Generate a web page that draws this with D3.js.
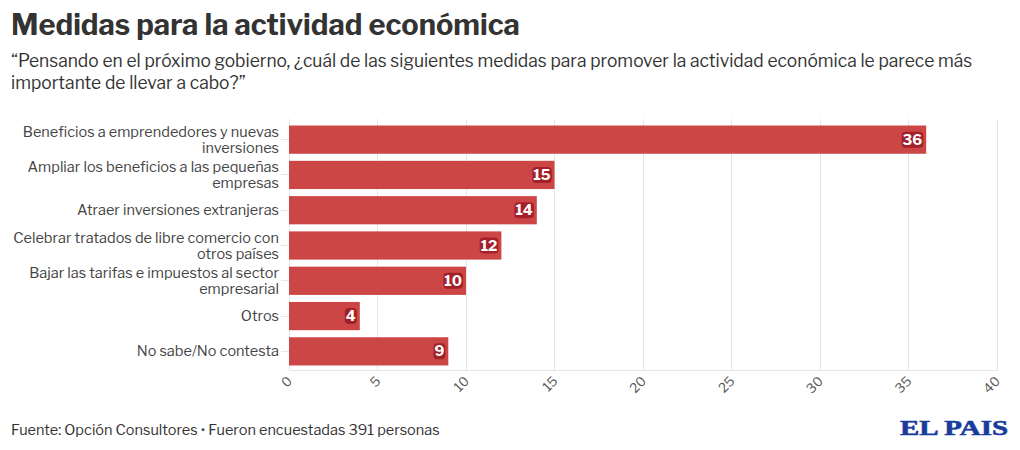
<!DOCTYPE html>
<html>
<head>
<meta charset="utf-8">
<script src="https://cdn.jsdelivr.net/npm/d3@7"></script>
<style>
  body { margin: 0; background: #fff; }
  svg { display: block; }
</style>
</head>
<body>
<svg id="chart" width="1020" height="450"></svg>
<script>
// data
const categories = [
  ["Beneficios a emprendedores y nuevas", "inversiones"],
  ["Ampliar los beneficios a las pequeñas", "empresas"],
  ["Atraer inversiones extranjeras"],
  ["Celebrar tratados de libre comercio con", "otros países"],
  ["Bajar las tarifas e impuestos al sector", "empresarial"],
  ["Otros"],
  ["No sabe/No contesta"]
];
const values = [36, 15, 14, 12, 10, 4, 9];
const xTicks = [0, 5, 10, 15, 20, 25, 30, 35, 40];

const font = "'Libre Franklin', 'Noto Sans', sans-serif";
const svg = d3.select("#chart");

svg.append("text")
  .attr("x", 11).attr("y", 35)
  .attr("font-family", font).attr("font-size", 29).attr("font-weight", 700)
  .attr("fill", "#333")
  .text("Medidas para la actividad económica");

const sub = svg.append("text")
  .attr("font-family", font).attr("font-size", 17.4).attr("fill", "#333");
sub.append("tspan").attr("x", 11).attr("y", 67)
  .text("“Pensando en el próximo gobierno, ¿cuál de las siguientes medidas para promover la actividad económica le parece más");
sub.append("tspan").attr("x", 11).attr("y", 89)
  .text("importante de llevar a cabo?”");

const plot = { left: 289, right: 997, top: 122, bottom: 369 };

const x = d3.scaleLinear().domain([0, 40]).range([plot.left, plot.right]);
const y = d3.scaleBand().domain(d3.range(values.length)).range([plot.top, plot.bottom])
  .paddingInner(0.2).paddingOuter(0.1);

// grid
svg.append("g")
  .selectAll("line")
  .data(xTicks)
  .join("line")
  .attr("x1", d => x(d)).attr("x2", d => x(d))
  .attr("y1", plot.top - 3).attr("y2", plot.bottom + 1)
  .attr("stroke", "#e6e6e6").attr("shape-rendering", "crispEdges");

svg.append("line")
  .attr("x1", plot.left).attr("x2", plot.right + 1)
  .attr("y1", plot.bottom + 1).attr("y2", plot.bottom + 1)
  .attr("stroke", "#e6e6e6").attr("shape-rendering", "crispEdges");

// category ticks and labels
const yAxis = svg.append("g");
values.forEach((v, i) => {
  const cy = y(i) + y.bandwidth() / 2;
  yAxis.append("line")
    .attr("x1", plot.left - 8).attr("x2", plot.left)
    .attr("y1", cy).attr("y2", cy)
    .attr("stroke", "#e6e6e6").attr("shape-rendering", "crispEdges");
  const lines = categories[i];
  const t = yAxis.append("text")
    .attr("text-anchor", "end")
    .attr("font-family", font).attr("font-size", 14.5).attr("fill", "#444");
  lines.forEach((l, j) => {
    t.append("tspan")
      .attr("x", plot.left - 10)
      .attr("y", cy + 5 + (j - (lines.length - 1) / 2) * 16)
      .text(l);
  });
});

// bars
svg.append("g")
  .selectAll("rect")
  .data(values)
  .join("rect")
  .attr("x", x(0))
  .attr("y", (d, i) => y(i))
  .attr("width", d => x(d) - x(0))
  .attr("height", y.bandwidth())
  .attr("fill", "#cc4646");

// value labels with dark badge
const labels = svg.append("g");
values.forEach((v, i) => {
  const cy = y(i) + y.bandwidth() / 2;
  const g = labels.append("g");
  const t = g.append("text")
    .attr("x", x(v) - 4).attr("y", cy + 5)
    .attr("text-anchor", "end")
    .attr("font-family", font).attr("font-size", 14.5).attr("font-weight", 700)
    .attr("fill", "#fff")
    .text(v);
  const bb = t.node().getBBox();
  g.insert("rect", "text")
    .attr("x", bb.x - 1).attr("y", bb.y + 1)
    .attr("width", bb.width + 2).attr("height", bb.height - 2)
    .attr("rx", 4)
    .attr("fill", "#a3202a");
});

// x tick labels, rotated
svg.append("g")
  .selectAll("text")
  .data(xTicks)
  .join("text")
  .attr("transform", d => `translate(${x(d) + 4},${plot.bottom + 13}) rotate(-45)`)
  .attr("text-anchor", "end")
  .attr("font-family", font).attr("font-size", 13).attr("fill", "#555")
  .text(d => d);

// footer
svg.append("text")
  .attr("x", 11).attr("y", 435)
  .attr("font-family", font).attr("font-size", 14.5).attr("fill", "#333")
  .text("Fuente: Opción Consultores • Fueron encuestadas 391 personas");

svg.append("text")
  .attr("x", 1008).attr("y", 435)
  .attr("text-anchor", "end")
  .attr("font-family", "'Liberation Serif', 'DejaVu Serif', serif")
  .attr("font-size", 21).attr("font-weight", 700)
  .attr("fill", "#1a3b9c")
  .attr("stroke", "#1a3b9c").attr("stroke-width", 0.6)
  .attr("textLength", 108).attr("lengthAdjust", "spacingAndGlyphs")
  .text("EL PAIS");
</script>
</body>
</html>
